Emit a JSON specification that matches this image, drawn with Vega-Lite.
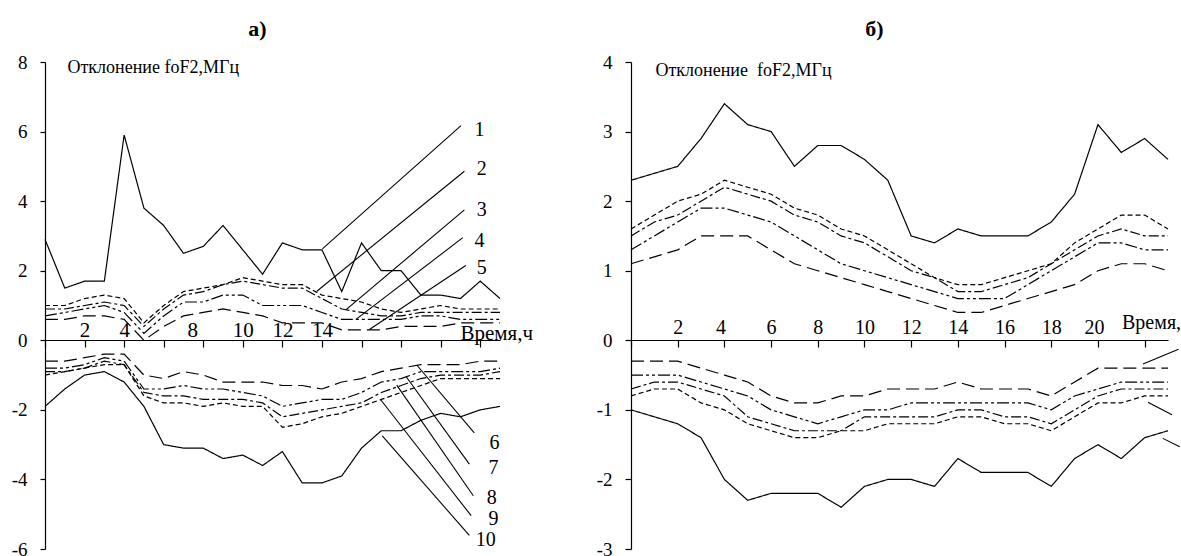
{
"$schema":"https://vega.github.io/schema/vega-lite/v6.json",
"background":"white",
"padding":{"left":11,"top":18,"right":0,"bottom":0},
"bounds":"flush",
"spacing":131,
"config":{
 "font":"Liberation Serif, Times New Roman, DejaVu Serif, serif",
 "view":{"stroke":null},
 "axis":{"labelFont":"Liberation Serif, Times New Roman, DejaVu Serif, serif","titleFont":"Liberation Serif, Times New Roman, DejaVu Serif, serif","domainColor":"#000","tickColor":"#000","labelColor":"#000","titleColor":"#000","grid":false,"domainWidth":1.2,"tickWidth":1.2,"labelFlush":false,"labelOverlap":false,"titleFontWeight":"normal","titlePadding":0},
 "title":{"font":"Liberation Serif, Times New Roman, DejaVu Serif, serif","fontSize":22,"fontWeight":"bold","color":"#000","anchor":"middle"},
 "text":{"font":"Liberation Serif, Times New Roman, DejaVu Serif, serif"}
},
"datasets":{
"a":[
{"s":1,"h":0,"v":2.9},{"s":1,"h":1,"v":1.5},{"s":1,"h":2,"v":1.7},{"s":1,"h":3,"v":1.7},{"s":1,"h":4,"v":5.9},{"s":1,"h":5,"v":3.8},{"s":1,"h":6,"v":3.3},{"s":1,"h":7,"v":2.5},{"s":1,"h":8,"v":2.7},{"s":1,"h":9,"v":3.3},{"s":1,"h":10,"v":2.6},{"s":1,"h":11,"v":1.9},{"s":1,"h":12,"v":2.8},{"s":1,"h":13,"v":2.6},{"s":1,"h":14,"v":2.6},{"s":1,"h":15,"v":1.4},{"s":1,"h":16,"v":2.8},{"s":1,"h":17,"v":2.0},{"s":1,"h":18,"v":2.0},{"s":1,"h":19,"v":1.3},{"s":1,"h":20,"v":1.3},{"s":1,"h":21,"v":1.2},{"s":1,"h":22,"v":1.7},{"s":1,"h":23,"v":1.2},
{"s":2,"h":0,"v":1.0},{"s":2,"h":1,"v":1.0},{"s":2,"h":2,"v":1.2},{"s":2,"h":3,"v":1.3},{"s":2,"h":4,"v":1.2},{"s":2,"h":5,"v":0.5},{"s":2,"h":6,"v":1.0},{"s":2,"h":7,"v":1.4},{"s":2,"h":8,"v":1.5},{"s":2,"h":9,"v":1.6},{"s":2,"h":10,"v":1.8},{"s":2,"h":11,"v":1.7},{"s":2,"h":12,"v":1.6},{"s":2,"h":13,"v":1.6},{"s":2,"h":14,"v":1.3},{"s":2,"h":15,"v":1.2},{"s":2,"h":16,"v":1.1},{"s":2,"h":17,"v":0.9},{"s":2,"h":18,"v":0.8},{"s":2,"h":19,"v":0.9},{"s":2,"h":20,"v":1.0},{"s":2,"h":21,"v":0.9},{"s":2,"h":22,"v":0.9},{"s":2,"h":23,"v":0.9},
{"s":3,"h":0,"v":0.9},{"s":3,"h":1,"v":0.9},{"s":3,"h":2,"v":1.0},{"s":3,"h":3,"v":1.1},{"s":3,"h":4,"v":1.0},{"s":3,"h":5,"v":0.4},{"s":3,"h":6,"v":0.9},{"s":3,"h":7,"v":1.3},{"s":3,"h":8,"v":1.4},{"s":3,"h":9,"v":1.6},{"s":3,"h":10,"v":1.7},{"s":3,"h":11,"v":1.6},{"s":3,"h":12,"v":1.5},{"s":3,"h":13,"v":1.5},{"s":3,"h":14,"v":1.2},{"s":3,"h":15,"v":0.9},{"s":3,"h":16,"v":0.8},{"s":3,"h":17,"v":0.7},{"s":3,"h":18,"v":0.7},{"s":3,"h":19,"v":0.8},{"s":3,"h":20,"v":0.8},{"s":3,"h":21,"v":0.8},{"s":3,"h":22,"v":0.8},{"s":3,"h":23,"v":0.8},
{"s":4,"h":0,"v":0.7},{"s":4,"h":1,"v":0.8},{"s":4,"h":2,"v":0.9},{"s":4,"h":3,"v":1.0},{"s":4,"h":4,"v":0.8},{"s":4,"h":5,"v":0.2},{"s":4,"h":6,"v":0.7},{"s":4,"h":7,"v":1.1},{"s":4,"h":8,"v":1.1},{"s":4,"h":9,"v":1.3},{"s":4,"h":10,"v":1.3},{"s":4,"h":11,"v":1.0},{"s":4,"h":12,"v":1.0},{"s":4,"h":13,"v":1.0},{"s":4,"h":14,"v":0.8},{"s":4,"h":15,"v":0.6},{"s":4,"h":16,"v":0.6},{"s":4,"h":17,"v":0.6},{"s":4,"h":18,"v":0.6},{"s":4,"h":19,"v":0.7},{"s":4,"h":20,"v":0.7},{"s":4,"h":21,"v":0.6},{"s":4,"h":22,"v":0.6},{"s":4,"h":23,"v":0.6},
{"s":5,"h":0,"v":0.6},{"s":5,"h":1,"v":0.6},{"s":5,"h":2,"v":0.7},{"s":5,"h":3,"v":0.7},{"s":5,"h":4,"v":0.6},{"s":5,"h":5,"v":0.0},{"s":5,"h":6,"v":0.4},{"s":5,"h":7,"v":0.7},{"s":5,"h":8,"v":0.8},{"s":5,"h":9,"v":0.9},{"s":5,"h":10,"v":0.8},{"s":5,"h":11,"v":0.7},{"s":5,"h":12,"v":0.5},{"s":5,"h":13,"v":0.5},{"s":5,"h":14,"v":0.5},{"s":5,"h":15,"v":0.3},{"s":5,"h":16,"v":0.3},{"s":5,"h":17,"v":0.3},{"s":5,"h":18,"v":0.4},{"s":5,"h":19,"v":0.4},{"s":5,"h":20,"v":0.4},{"s":5,"h":21,"v":0.5},{"s":5,"h":22,"v":0.5},{"s":5,"h":23,"v":0.5},
{"s":6,"h":0,"v":-0.6},{"s":6,"h":1,"v":-0.6},{"s":6,"h":2,"v":-0.5},{"s":6,"h":3,"v":-0.4},{"s":6,"h":4,"v":-0.4},{"s":6,"h":5,"v":-1.0},{"s":6,"h":6,"v":-1.1},{"s":6,"h":7,"v":-0.9},{"s":6,"h":8,"v":-1.0},{"s":6,"h":9,"v":-1.2},{"s":6,"h":10,"v":-1.2},{"s":6,"h":11,"v":-1.2},{"s":6,"h":12,"v":-1.3},{"s":6,"h":13,"v":-1.3},{"s":6,"h":14,"v":-1.4},{"s":6,"h":15,"v":-1.2},{"s":6,"h":16,"v":-1.1},{"s":6,"h":17,"v":-0.9},{"s":6,"h":18,"v":-0.8},{"s":6,"h":19,"v":-0.7},{"s":6,"h":20,"v":-0.7},{"s":6,"h":21,"v":-0.7},{"s":6,"h":22,"v":-0.6},{"s":6,"h":23,"v":-0.6},
{"s":7,"h":0,"v":-0.8},{"s":7,"h":1,"v":-0.8},{"s":7,"h":2,"v":-0.7},{"s":7,"h":3,"v":-0.5},{"s":7,"h":4,"v":-0.6},{"s":7,"h":5,"v":-1.4},{"s":7,"h":6,"v":-1.4},{"s":7,"h":7,"v":-1.3},{"s":7,"h":8,"v":-1.4},{"s":7,"h":9,"v":-1.4},{"s":7,"h":10,"v":-1.5},{"s":7,"h":11,"v":-1.6},{"s":7,"h":12,"v":-1.9},{"s":7,"h":13,"v":-1.8},{"s":7,"h":14,"v":-1.7},{"s":7,"h":15,"v":-1.7},{"s":7,"h":16,"v":-1.5},{"s":7,"h":17,"v":-1.2},{"s":7,"h":18,"v":-1.1},{"s":7,"h":19,"v":-0.9},{"s":7,"h":20,"v":-0.9},{"s":7,"h":21,"v":-0.9},{"s":7,"h":22,"v":-0.9},{"s":7,"h":23,"v":-0.8},
{"s":8,"h":0,"v":-0.9},{"s":8,"h":1,"v":-0.9},{"s":8,"h":2,"v":-0.8},{"s":8,"h":3,"v":-0.6},{"s":8,"h":4,"v":-0.7},{"s":8,"h":5,"v":-1.5},{"s":8,"h":6,"v":-1.6},{"s":8,"h":7,"v":-1.6},{"s":8,"h":8,"v":-1.7},{"s":8,"h":9,"v":-1.7},{"s":8,"h":10,"v":-1.7},{"s":8,"h":11,"v":-1.8},{"s":8,"h":12,"v":-2.2},{"s":8,"h":13,"v":-2.1},{"s":8,"h":14,"v":-2.0},{"s":8,"h":15,"v":-1.9},{"s":8,"h":16,"v":-1.8},{"s":8,"h":17,"v":-1.5},{"s":8,"h":18,"v":-1.3},{"s":8,"h":19,"v":-1.1},{"s":8,"h":20,"v":-1.0},{"s":8,"h":21,"v":-1.0},{"s":8,"h":22,"v":-1.0},{"s":8,"h":23,"v":-0.9},
{"s":9,"h":0,"v":-1.0},{"s":9,"h":1,"v":-0.9},{"s":9,"h":2,"v":-0.8},{"s":9,"h":3,"v":-0.7},{"s":9,"h":4,"v":-0.7},{"s":9,"h":5,"v":-1.6},{"s":9,"h":6,"v":-1.8},{"s":9,"h":7,"v":-1.8},{"s":9,"h":8,"v":-1.9},{"s":9,"h":9,"v":-1.8},{"s":9,"h":10,"v":-1.9},{"s":9,"h":11,"v":-1.9},{"s":9,"h":12,"v":-2.5},{"s":9,"h":13,"v":-2.4},{"s":9,"h":14,"v":-2.2},{"s":9,"h":15,"v":-2.1},{"s":9,"h":16,"v":-1.9},{"s":9,"h":17,"v":-1.7},{"s":9,"h":18,"v":-1.5},{"s":9,"h":19,"v":-1.3},{"s":9,"h":20,"v":-1.1},{"s":9,"h":21,"v":-1.1},{"s":9,"h":22,"v":-1.1},{"s":9,"h":23,"v":-1.1},
{"s":10,"h":0,"v":-1.9},{"s":10,"h":1,"v":-1.4},{"s":10,"h":2,"v":-1.0},{"s":10,"h":3,"v":-0.9},{"s":10,"h":4,"v":-1.2},{"s":10,"h":5,"v":-1.9},{"s":10,"h":6,"v":-3.0},{"s":10,"h":7,"v":-3.1},{"s":10,"h":8,"v":-3.1},{"s":10,"h":9,"v":-3.4},{"s":10,"h":10,"v":-3.3},{"s":10,"h":11,"v":-3.6},{"s":10,"h":12,"v":-3.2},{"s":10,"h":13,"v":-4.1},{"s":10,"h":14,"v":-4.1},{"s":10,"h":15,"v":-3.9},{"s":10,"h":16,"v":-3.1},{"s":10,"h":17,"v":-2.6},{"s":10,"h":18,"v":-2.6},{"s":10,"h":19,"v":-2.3},{"s":10,"h":20,"v":-2.1},{"s":10,"h":21,"v":-2.2},{"s":10,"h":22,"v":-2.0},{"s":10,"h":23,"v":-1.9}
],
"b":[
{"s":1,"h":0,"v":2.3},{"s":1,"h":1,"v":2.4},{"s":1,"h":2,"v":2.5},{"s":1,"h":3,"v":2.9},{"s":1,"h":4,"v":3.4},{"s":1,"h":5,"v":3.1},{"s":1,"h":6,"v":3.0},{"s":1,"h":7,"v":2.5},{"s":1,"h":8,"v":2.8},{"s":1,"h":9,"v":2.8},{"s":1,"h":10,"v":2.6},{"s":1,"h":11,"v":2.3},{"s":1,"h":12,"v":1.5},{"s":1,"h":13,"v":1.4},{"s":1,"h":14,"v":1.6},{"s":1,"h":15,"v":1.5},{"s":1,"h":16,"v":1.5},{"s":1,"h":17,"v":1.5},{"s":1,"h":18,"v":1.7},{"s":1,"h":19,"v":2.1},{"s":1,"h":20,"v":3.1},{"s":1,"h":21,"v":2.7},{"s":1,"h":22,"v":2.9},{"s":1,"h":23,"v":2.6},
{"s":2,"h":0,"v":1.6},{"s":2,"h":1,"v":1.8},{"s":2,"h":2,"v":2.0},{"s":2,"h":3,"v":2.1},{"s":2,"h":4,"v":2.3},{"s":2,"h":5,"v":2.2},{"s":2,"h":6,"v":2.1},{"s":2,"h":7,"v":1.9},{"s":2,"h":8,"v":1.8},{"s":2,"h":9,"v":1.6},{"s":2,"h":10,"v":1.5},{"s":2,"h":11,"v":1.3},{"s":2,"h":12,"v":1.1},{"s":2,"h":13,"v":0.9},{"s":2,"h":14,"v":0.8},{"s":2,"h":15,"v":0.8},{"s":2,"h":16,"v":0.9},{"s":2,"h":17,"v":1.0},{"s":2,"h":18,"v":1.1},{"s":2,"h":19,"v":1.4},{"s":2,"h":20,"v":1.6},{"s":2,"h":21,"v":1.8},{"s":2,"h":22,"v":1.8},{"s":2,"h":23,"v":1.6},
{"s":3,"h":0,"v":1.5},{"s":3,"h":1,"v":1.7},{"s":3,"h":2,"v":1.8},{"s":3,"h":3,"v":2.0},{"s":3,"h":4,"v":2.2},{"s":3,"h":5,"v":2.1},{"s":3,"h":6,"v":2.0},{"s":3,"h":7,"v":1.8},{"s":3,"h":8,"v":1.7},{"s":3,"h":9,"v":1.5},{"s":3,"h":10,"v":1.4},{"s":3,"h":11,"v":1.2},{"s":3,"h":12,"v":1.0},{"s":3,"h":13,"v":0.9},{"s":3,"h":14,"v":0.7},{"s":3,"h":15,"v":0.7},{"s":3,"h":16,"v":0.8},{"s":3,"h":17,"v":0.9},{"s":3,"h":18,"v":1.1},{"s":3,"h":19,"v":1.3},{"s":3,"h":20,"v":1.5},{"s":3,"h":21,"v":1.6},{"s":3,"h":22,"v":1.5},{"s":3,"h":23,"v":1.5},
{"s":4,"h":0,"v":1.3},{"s":4,"h":1,"v":1.5},{"s":4,"h":2,"v":1.7},{"s":4,"h":3,"v":1.9},{"s":4,"h":4,"v":1.9},{"s":4,"h":5,"v":1.8},{"s":4,"h":6,"v":1.7},{"s":4,"h":7,"v":1.5},{"s":4,"h":8,"v":1.3},{"s":4,"h":9,"v":1.1},{"s":4,"h":10,"v":1.0},{"s":4,"h":11,"v":0.9},{"s":4,"h":12,"v":0.8},{"s":4,"h":13,"v":0.7},{"s":4,"h":14,"v":0.6},{"s":4,"h":15,"v":0.6},{"s":4,"h":16,"v":0.6},{"s":4,"h":17,"v":0.8},{"s":4,"h":18,"v":1.0},{"s":4,"h":19,"v":1.2},{"s":4,"h":20,"v":1.4},{"s":4,"h":21,"v":1.4},{"s":4,"h":22,"v":1.3},{"s":4,"h":23,"v":1.3},
{"s":5,"h":0,"v":1.1},{"s":5,"h":1,"v":1.2},{"s":5,"h":2,"v":1.3},{"s":5,"h":3,"v":1.5},{"s":5,"h":4,"v":1.5},{"s":5,"h":5,"v":1.5},{"s":5,"h":6,"v":1.3},{"s":5,"h":7,"v":1.1},{"s":5,"h":8,"v":1.0},{"s":5,"h":9,"v":0.9},{"s":5,"h":10,"v":0.8},{"s":5,"h":11,"v":0.7},{"s":5,"h":12,"v":0.6},{"s":5,"h":13,"v":0.5},{"s":5,"h":14,"v":0.4},{"s":5,"h":15,"v":0.4},{"s":5,"h":16,"v":0.5},{"s":5,"h":17,"v":0.6},{"s":5,"h":18,"v":0.7},{"s":5,"h":19,"v":0.8},{"s":5,"h":20,"v":1.0},{"s":5,"h":21,"v":1.1},{"s":5,"h":22,"v":1.1},{"s":5,"h":23,"v":1.0},
{"s":6,"h":0,"v":-0.3},{"s":6,"h":1,"v":-0.3},{"s":6,"h":2,"v":-0.3},{"s":6,"h":3,"v":-0.4},{"s":6,"h":4,"v":-0.5},{"s":6,"h":5,"v":-0.6},{"s":6,"h":6,"v":-0.8},{"s":6,"h":7,"v":-0.9},{"s":6,"h":8,"v":-0.9},{"s":6,"h":9,"v":-0.8},{"s":6,"h":10,"v":-0.8},{"s":6,"h":11,"v":-0.7},{"s":6,"h":12,"v":-0.7},{"s":6,"h":13,"v":-0.7},{"s":6,"h":14,"v":-0.6},{"s":6,"h":15,"v":-0.7},{"s":6,"h":16,"v":-0.7},{"s":6,"h":17,"v":-0.7},{"s":6,"h":18,"v":-0.8},{"s":6,"h":19,"v":-0.6},{"s":6,"h":20,"v":-0.4},{"s":6,"h":21,"v":-0.4},{"s":6,"h":22,"v":-0.4},{"s":6,"h":23,"v":-0.4},
{"s":7,"h":0,"v":-0.5},{"s":7,"h":1,"v":-0.5},{"s":7,"h":2,"v":-0.5},{"s":7,"h":3,"v":-0.6},{"s":7,"h":4,"v":-0.7},{"s":7,"h":5,"v":-0.8},{"s":7,"h":6,"v":-1.0},{"s":7,"h":7,"v":-1.1},{"s":7,"h":8,"v":-1.2},{"s":7,"h":9,"v":-1.1},{"s":7,"h":10,"v":-1.0},{"s":7,"h":11,"v":-1.0},{"s":7,"h":12,"v":-0.9},{"s":7,"h":13,"v":-0.9},{"s":7,"h":14,"v":-0.9},{"s":7,"h":15,"v":-0.9},{"s":7,"h":16,"v":-0.9},{"s":7,"h":17,"v":-0.9},{"s":7,"h":18,"v":-1.0},{"s":7,"h":19,"v":-0.8},{"s":7,"h":20,"v":-0.7},{"s":7,"h":21,"v":-0.6},{"s":7,"h":22,"v":-0.6},{"s":7,"h":23,"v":-0.6},
{"s":8,"h":0,"v":-0.7},{"s":8,"h":1,"v":-0.6},{"s":8,"h":2,"v":-0.6},{"s":8,"h":3,"v":-0.7},{"s":8,"h":4,"v":-0.8},{"s":8,"h":5,"v":-1.1},{"s":8,"h":6,"v":-1.2},{"s":8,"h":7,"v":-1.3},{"s":8,"h":8,"v":-1.3},{"s":8,"h":9,"v":-1.3},{"s":8,"h":10,"v":-1.1},{"s":8,"h":11,"v":-1.1},{"s":8,"h":12,"v":-1.1},{"s":8,"h":13,"v":-1.1},{"s":8,"h":14,"v":-1.0},{"s":8,"h":15,"v":-1.0},{"s":8,"h":16,"v":-1.1},{"s":8,"h":17,"v":-1.1},{"s":8,"h":18,"v":-1.2},{"s":8,"h":19,"v":-1.0},{"s":8,"h":20,"v":-0.8},{"s":8,"h":21,"v":-0.7},{"s":8,"h":22,"v":-0.7},{"s":8,"h":23,"v":-0.7},
{"s":9,"h":0,"v":-0.8},{"s":9,"h":1,"v":-0.7},{"s":9,"h":2,"v":-0.7},{"s":9,"h":3,"v":-0.9},{"s":9,"h":4,"v":-1.0},{"s":9,"h":5,"v":-1.2},{"s":9,"h":6,"v":-1.3},{"s":9,"h":7,"v":-1.4},{"s":9,"h":8,"v":-1.4},{"s":9,"h":9,"v":-1.3},{"s":9,"h":10,"v":-1.3},{"s":9,"h":11,"v":-1.2},{"s":9,"h":12,"v":-1.2},{"s":9,"h":13,"v":-1.2},{"s":9,"h":14,"v":-1.1},{"s":9,"h":15,"v":-1.1},{"s":9,"h":16,"v":-1.2},{"s":9,"h":17,"v":-1.2},{"s":9,"h":18,"v":-1.3},{"s":9,"h":19,"v":-1.1},{"s":9,"h":20,"v":-0.9},{"s":9,"h":21,"v":-0.9},{"s":9,"h":22,"v":-0.8},{"s":9,"h":23,"v":-0.8},
{"s":10,"h":0,"v":-1.0},{"s":10,"h":1,"v":-1.1},{"s":10,"h":2,"v":-1.2},{"s":10,"h":3,"v":-1.4},{"s":10,"h":4,"v":-2.0},{"s":10,"h":5,"v":-2.3},{"s":10,"h":6,"v":-2.2},{"s":10,"h":7,"v":-2.2},{"s":10,"h":8,"v":-2.2},{"s":10,"h":9,"v":-2.4},{"s":10,"h":10,"v":-2.1},{"s":10,"h":11,"v":-2.0},{"s":10,"h":12,"v":-2.0},{"s":10,"h":13,"v":-2.1},{"s":10,"h":14,"v":-1.7},{"s":10,"h":15,"v":-1.9},{"s":10,"h":16,"v":-1.9},{"s":10,"h":17,"v":-1.9},{"s":10,"h":18,"v":-2.1},{"s":10,"h":19,"v":-1.7},{"s":10,"h":20,"v":-1.5},{"s":10,"h":21,"v":-1.7},{"s":10,"h":22,"v":-1.4},{"s":10,"h":23,"v":-1.3}
],
"leadA":[
{"id":1,"x":21.03,"y":6.17},{"id":1,"x":14.02,"y":2.63},
{"id":2,"x":21.2,"y":4.86},{"id":2,"x":13.74,"y":1.41},
{"id":3,"x":21.2,"y":3.75},{"id":3,"x":15.22,"y":0.88},
{"id":4,"x":21.12,"y":2.95},{"id":4,"x":15.72,"y":0.6},
{"id":5,"x":21.27,"y":2.15},{"id":5,"x":16.4,"y":0.31},
{"id":6,"x":18.79,"y":-0.71},{"id":6,"x":21.7,"y":-2.66},
{"id":7,"x":18.25,"y":-1.04},{"id":7,"x":21.45,"y":-3.56},
{"id":8,"x":17.78,"y":-1.29},{"id":8,"x":21.65,"y":-4.47},
{"id":9,"x":16.97,"y":-1.71},{"id":9,"x":21.54,"y":-5.04},
{"id":10,"x":17.05,"y":-2.75},{"id":10,"x":21.45,"y":-5.61}
],
"labA":[
{"t":"1","x":21.97,"y":6.05},{"t":"2","x":22.08,"y":4.91},{"t":"3","x":22.08,"y":3.74},{"t":"4","x":21.96,"y":2.86},{"t":"5","x":22.08,"y":2.07},
{"t":"6","x":22.72,"y":-2.94},{"t":"7","x":22.67,"y":-3.68},{"t":"8","x":22.58,"y":-4.52},{"t":"9","x":22.67,"y":-5.15},{"t":"10","x":22.28,"y":-5.74}
],
"leadB":[
{"id":1,"x":21.93,"y":-0.34},{"id":1,"x":23.45,"y":-0.13},
{"id":2,"x":22.14,"y":-0.89},{"id":2,"x":23.17,"y":-1.07},
{"id":3,"x":22.78,"y":-1.41},{"id":3,"x":23.5,"y":-1.53}
],
"labB":[
{"t":"Время,ч","x":21.03,"y":0.16}
]
},
"hconcat":[
{
"width":455,"height":487,
"title":{"text":"а)","dx":-15,"offset":12},
"layer":[
{"data":{"name":"a"},"mark":{"type":"line","strokeWidth":1.2,"color":"#000"},
 "encoding":{
  "x":{"field":"h","type":"quantitative","scale":{"domain":[0,23],"nice":false,"zero":false},
   "axis":{"orient":"bottom","offset":-209,"values":[0,1,2,3,4,5,6,7,8,9,10,11,12,13,14,15,16,17,18,19,20,21,22,23],"tickSize":7,
    "labelExpr":"indexof([2,4,8,10,12,14], datum.value) >= 0 ? '' + datum.value : ''",
    "labelBaseline":"alphabetic","labelPadding":-10.5,"labelFontSize":21,
    "labelOffset":{"condition":{"test":"datum.value == 8","value":-11},"value":0},
    "title":"Время,ч","titleX":415,"titleY":-1,"titleAlign":"left","titleBaseline":"alphabetic","titleAngle":0,"titleFontSize":21}},
  "y":{"field":"v","type":"quantitative","scale":{"domain":[-6,8],"nice":false,"zero":false},
   "axis":{"values":[-6,-4,-2,0,2,4,6,8],"tickSize":5,"labelPadding":13,"labelFontSize":19,"labelExpr":"'' + datum.value",
    "title":"Отклонение foF2,МГц","titleAngle":0,"titleX":22,"titleY":10,"titleAlign":"left","titleBaseline":"alphabetic","titleFontSize":18}},
  "strokeDash":{"field":"s","type":"nominal","legend":null,
   "scale":{"domain":[1,2,3,4,5,6,7,8,9,10],"range":[[1,0],[5,3],[10,3,3,3],[12,3,3,3,3,3],[13,6],[13,6],[12,3,3,3,3,3],[10,3,3,3],[5,3],[1,0]]}}
 }},
{"data":{"name":"leadA"},"mark":{"type":"line","strokeWidth":1.1,"color":"#000"},
 "encoding":{"x":{"field":"x","type":"quantitative"},"y":{"field":"y","type":"quantitative"},"detail":{"field":"id","type":"nominal"}}},
{"data":{"name":"labA"},"mark":{"type":"text","fontSize":20,"color":"#000","baseline":"middle","align":"center"},
 "encoding":{"x":{"field":"x","type":"quantitative"},"y":{"field":"y","type":"quantitative"},"text":{"field":"t","type":"nominal"}}}
]
},
{
"width":537,"height":487,
"title":{"text":"б)","dx":-25,"offset":12},
"layer":[
{"data":{"name":"b"},"mark":{"type":"line","strokeWidth":1.2,"color":"#000"},
 "encoding":{
  "x":{"field":"h","type":"quantitative","scale":{"domain":[0,23],"nice":false,"zero":false},
   "axis":{"orient":"bottom","offset":-209,"values":[0,1,2,3,4,5,6,7,8,9,10,11,12,13,14,15,16,17,18,19,20,21,22,23],"tickSize":7,
    "labelExpr":"indexof([2,4,6,8,10,12,14,16,18,20], datum.value) >= 0 ? '' + datum.value : ''",
    "labelBaseline":"alphabetic","labelPadding":-13.5,"labelFontSize":20,
    "labelOffset":{"condition":{"test":"datum.value == 4 || datum.value == 20","value":-4},"value":0},
    "title":null}},
  "y":{"field":"v","type":"quantitative","scale":{"domain":[-3,4],"nice":false,"zero":false},
   "axis":{"values":[-3,-2,-1,0,1,2,3,4],"tickSize":6,"labelPadding":13,"labelFontSize":19,"labelExpr":"'' + datum.value",
    "title":"Отклонение\u00a0 foF2,МГц","titleAngle":0,"titleX":24,"titleY":13,"titleAlign":"left","titleBaseline":"alphabetic","titleFontSize":18}},
  "strokeDash":{"field":"s","type":"nominal","legend":null,
   "scale":{"domain":[1,2,3,4,5,6,7,8,9,10],"range":[[1,0],[5,3],[10,3,3,3],[12,3,3,3,3,3],[13,6],[13,6],[12,3,3,3,3,3],[10,3,3,3],[5,3],[1,0]]}}
 }},
{"data":{"name":"leadB"},"mark":{"type":"line","strokeWidth":1.1,"color":"#000"},
 "encoding":{"x":{"field":"x","type":"quantitative"},"y":{"field":"y","type":"quantitative"},"detail":{"field":"id","type":"nominal"}}},
{"data":{"name":"labB"},"mark":{"type":"text","fontSize":20,"color":"#000","baseline":"alphabetic","align":"left","limit":62,"ellipsis":"\u200b"},
 "encoding":{"x":{"field":"x","type":"quantitative"},"y":{"field":"y","type":"quantitative"},"text":{"field":"t","type":"nominal"}}}
]
}
]
}
